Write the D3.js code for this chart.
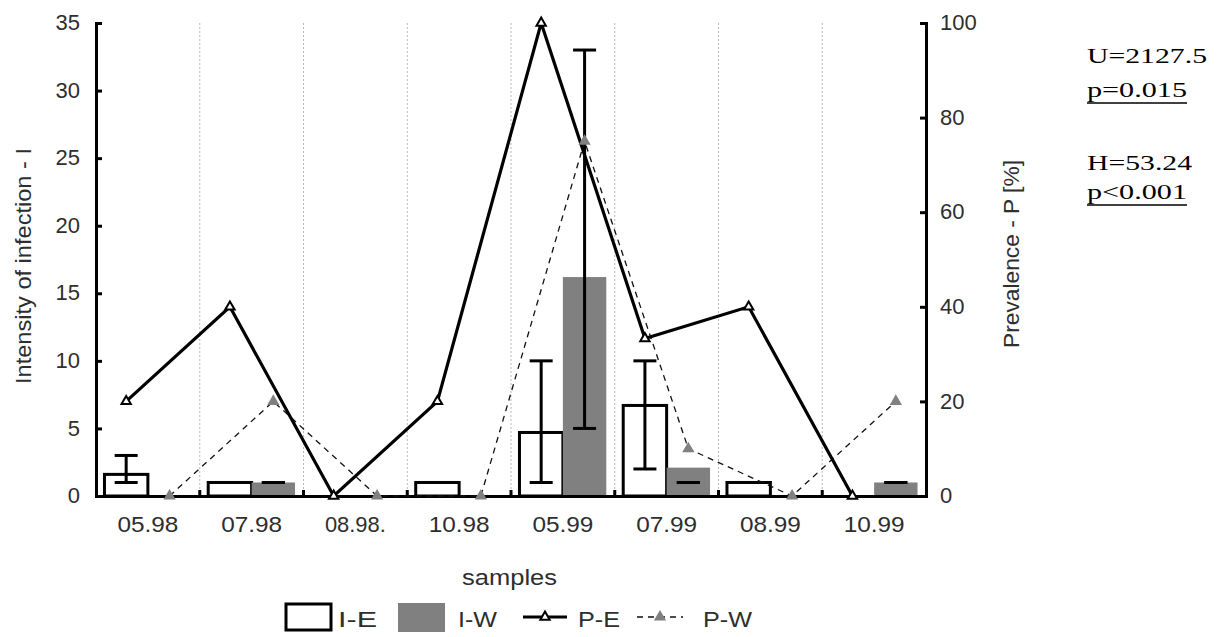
<!doctype html>
<html>
<head>
<meta charset="utf-8">
<title>Intensity of infection and prevalence</title>
<script src="https://d3js.org/d3.v7.min.js"></script>
<style>
    body { margin: 0; background: #fff; }
    svg { display: block; }
    .tick text, .lbl { font-family: "Liberation Sans", Arial, sans-serif; font-size: 22px; fill: #2e2e2e; }
    .note { font-family: "Liberation Serif", "Times New Roman", serif; font-size: 22px; fill: #000; }
    .axis path, .axis line { stroke: #000; stroke-width: 3px; }
</style>
</head>
<body>
<svg id="chart" width="1217" height="637"></svg>
<script>
// samples (x categories)
var categories = ["05.98", "07.98", "08.98.", "10.98", "05.99", "07.99", "08.99", "10.99"];
// intensity of infection (left axis), bars
var intensityE = [1.6, 1, 0, 1, 4.7, 6.7, 1, 0];
var intensityW = [0, 1, 0, 0, 16.2, 2.1, 0, 1];
// whiskers [low, high], null where none is drawn
var whiskerE = [[1, 3], null, null, null, [1, 10], [2, 10], null, null];
var whiskerW = [null, [1, 1], null, null, [5, 33], [1, 1], null, [1, 1]];
// prevalence in % (right axis), lines
var prevalenceE = [20, 40, 0, 20, 100, 33.3, 40, 0];
var prevalenceW = [0, 20, 0, 0, 75, 10, 0, 20];
// tick values
var leftTicks = [0, 5, 10, 15, 20, 25, 30, 35];
var rightTicks = [0, 20, 40, 60, 80, 100];
var legendLabels = ["I-E", "I-W", "P-E", "P-W"];

var svg = d3.select("#chart");
var gray = "#808080";

var x = d3.scaleBand().domain(categories).range([96, 926]).padding(0);
var sub = d3.scaleBand().domain(["E", "W"]).range([0, x.bandwidth()]).paddingInner(0).paddingOuter(0.195);
var yL = d3.scaleLinear().domain([0, 35]).range([496, 23]);
var yR = d3.scaleLinear().domain([0, 100]).range([496, 23]);

var rows = categories.map(function (c, i) {
    return { c: c, ie: intensityE[i], iw: intensityW[i], we: whiskerE[i], ww: whiskerW[i], pe: prevalenceE[i], pw: prevalenceW[i] };
});

// dotted separators between samples
svg.append("g").selectAll("line").data(categories.slice(1)).join("line")
    .attr("x1", function (c) { return x(c); }).attr("x2", function (c) { return x(c); })
    .attr("y1", yL(35)).attr("y2", yL(0))
    .attr("stroke", "#b8b8b8").attr("stroke-width", 1).attr("stroke-dasharray", "2,2");

// bars
var bars = svg.append("g");
bars.selectAll("rect.e").data(rows.filter(function (d) { return d.ie > 0; })).join("rect")
    .attr("class", "e")
    .attr("x", function (d) { return x(d.c) + sub("E"); })
    .attr("width", sub.bandwidth())
    .attr("y", function (d) { return yL(d.ie); })
    .attr("height", function (d) { return yL(0) - yL(d.ie); })
    .attr("fill", "#fff").attr("stroke", "#000").attr("stroke-width", 3);
bars.selectAll("rect.w").data(rows.filter(function (d) { return d.iw > 0; })).join("rect")
    .attr("class", "w")
    .attr("x", function (d) { return x(d.c) + sub("W"); })
    .attr("width", sub.bandwidth())
    .attr("y", function (d) { return yL(d.iw); })
    .attr("height", function (d) { return yL(0) - yL(d.iw); })
    .attr("fill", gray);

// whiskers
var whisk = [];
rows.forEach(function (d) {
    if (d.we) whisk.push({ cx: x(d.c) + sub("E") + sub.bandwidth() / 2, lo: d.we[0], hi: d.we[1] });
    if (d.ww) whisk.push({ cx: x(d.c) + sub("W") + sub.bandwidth() / 2, lo: d.ww[0], hi: d.ww[1] });
});
var wg = svg.append("g").attr("stroke", "#000").attr("stroke-width", 3);
whisk.forEach(function (w) {
    var g = wg.append("g");
    g.append("line").attr("x1", w.cx).attr("x2", w.cx).attr("y1", yL(w.lo)).attr("y2", yL(w.hi));
    g.append("line").attr("x1", w.cx - 11.5).attr("x2", w.cx + 11.5).attr("y1", yL(w.lo)).attr("y2", yL(w.lo));
    g.append("line").attr("x1", w.cx - 11.5).attr("x2", w.cx + 11.5).attr("y1", yL(w.hi)).attr("y2", yL(w.hi));
});

// axes
var axL = svg.append("g").attr("class", "axis").attr("transform", "translate(96,0)")
    .call(d3.axisLeft(yL).tickValues(leftTicks).tickSizeInner(-6).tickSizeOuter(0).tickPadding(16));
var axR = svg.append("g").attr("class", "axis").attr("transform", "translate(926,0)")
    .call(d3.axisRight(yR).tickValues(rightTicks).tickSizeInner(-6).tickSizeOuter(0).tickPadding(14));
var axB = svg.append("g").attr("class", "axis").attr("transform", "translate(0,496)")
    .call(d3.axisBottom(x).tickSize(0).tickSizeOuter(0).tickPadding(20));
axB.selectAll(".tick text").attr("textLength", 61).attr("lengthAdjust", "spacingAndGlyphs");
[axL, axR, axB].forEach(function (a) {
    a.select(".domain").attr("stroke-linecap", "square");
    a.selectAll(".tick text").attr("fill", "#2e2e2e");
});
axL.selectAll(".tick text").attr("dy", "0.3em");
axR.selectAll(".tick text").attr("dy", "0.3em");
axB.append("g").selectAll("line").data(categories.slice(1)).join("line")
    .attr("x1", function (c) { return x(c); }).attr("x2", function (c) { return x(c); })
    .attr("y1", 0).attr("y2", -6);

// prevalence lines
var lineE = d3.line().x(function (d) { return x(d.c) + sub("E") + sub.bandwidth() / 2; }).y(function (d) { return yR(d.pe); });
var lineW = d3.line().x(function (d) { return x(d.c) + sub("W") + sub.bandwidth() / 2; }).y(function (d) { return yR(d.pw); });
svg.append("path").attr("d", lineW(rows)).attr("fill", "none")
    .attr("stroke", "#111").attr("stroke-width", 1.3).attr("stroke-dasharray", "6,5");
svg.append("path").attr("d", lineE(rows)).attr("fill", "none")
    .attr("stroke", "#000").attr("stroke-width", 3.2).attr("stroke-linejoin", "miter");

var triOpen = d3.symbol(d3.symbolTriangle, 38);
var triFull = d3.symbol(d3.symbolTriangle, 65);
svg.append("g").selectAll("path").data(rows).join("path")
    .attr("d", triOpen)
    .attr("transform", function (d) { return "translate(" + (x(d.c) + sub("E") + sub.bandwidth() / 2) + "," + yR(d.pe) + ")"; })
    .attr("fill", "#fff").attr("stroke", "#000").attr("stroke-width", 2);
svg.append("g").selectAll("path").data(rows).join("path")
    .attr("d", triFull)
    .attr("transform", function (d) { return "translate(" + (x(d.c) + sub("W") + sub.bandwidth() / 2) + "," + yR(d.pw) + ")"; })
    .attr("fill", gray);

// axis titles
svg.append("text").attr("class", "lbl")
    .attr("transform", "translate(31,266) rotate(-90)").attr("text-anchor", "middle")
    .attr("textLength", 236).attr("lengthAdjust", "spacingAndGlyphs")
    .text("Intensity of infection - I");
svg.append("text").attr("class", "lbl")
    .attr("transform", "translate(1019,254) rotate(-90)").attr("text-anchor", "middle")
    .attr("textLength", 188).attr("lengthAdjust", "spacingAndGlyphs")
    .text("Prevalence - P [%]");
svg.append("text").attr("class", "lbl")
    .attr("x", 462).attr("y", 585)
    .attr("textLength", 95).attr("lengthAdjust", "spacingAndGlyphs")
    .text("samples");

// test statistics
var notes = [
    { t: "U=2127.5", y: 63, w: 120, u: false },
    { t: "p=0.015", y: 97, w: 100, u: true },
    { t: "H=53.24", y: 170, w: 105, u: false },
    { t: "p<0.001", y: 199, w: 100, u: true }
];
notes.forEach(function (n) {
    svg.append("text").attr("class", "note").attr("x", 1087).attr("y", n.y)
        .attr("textLength", n.w).attr("lengthAdjust", "spacingAndGlyphs").text(n.t);
    if (n.u) svg.append("line").attr("x1", 1087).attr("x2", 1087 + n.w)
        .attr("y1", n.y + 6).attr("y2", n.y + 6).attr("stroke", "#000").attr("stroke-width", 1.5);
});

// legend
var lg = svg.append("g");
var ly = 617;
lg.append("rect").attr("x", 286).attr("y", 604).attr("width", 45).attr("height", 26)
    .attr("fill", "#fff").attr("stroke", "#000").attr("stroke-width", 3);
lg.append("rect").attr("x", 398).attr("y", 603).attr("width", 47).attr("height", 29).attr("fill", gray);
lg.append("line").attr("x1", 523).attr("x2", 567).attr("y1", ly).attr("y2", ly)
    .attr("stroke", "#000").attr("stroke-width", 3.2);
lg.append("path").attr("d", triOpen).attr("transform", "translate(545," + ly + ")")
    .attr("fill", "#fff").attr("stroke", "#000").attr("stroke-width", 2);
lg.append("line").attr("x1", 637).attr("x2", 683).attr("y1", ly).attr("y2", ly)
    .attr("stroke", "#111").attr("stroke-width", 1.3).attr("stroke-dasharray", "6,5");
lg.append("path").attr("d", triFull).attr("transform", "translate(660," + ly + ")").attr("fill", gray);
var lx = [338, 458, 578, 703], lw = [39, 39, 42, 49];
lg.selectAll("text").data(legendLabels).join("text").attr("class", "lbl")
    .attr("x", function (d, i) { return lx[i]; }).attr("y", 627)
    .attr("textLength", function (d, i) { return lw[i]; }).attr("lengthAdjust", "spacingAndGlyphs")
    .text(function (d) { return d; });
</script>
</body>
</html>
